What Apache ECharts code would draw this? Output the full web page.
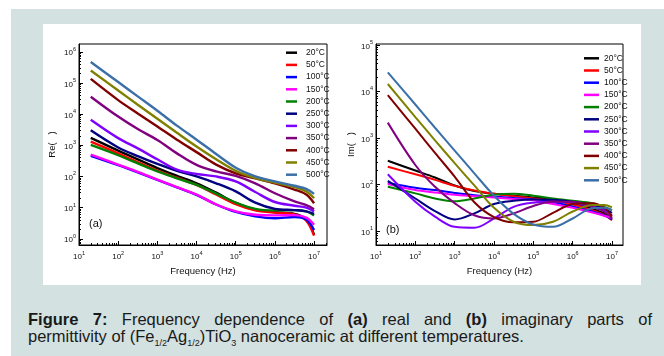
<!DOCTYPE html>
<html><head><meta charset="utf-8">
<script src="https://cdn.jsdelivr.net/npm/echarts@6/dist/echarts.min.js"></script>
<style>
html,body{margin:0;padding:0;background:#fff;width:664px;height:356px;overflow:hidden;font-family:'Liberation Sans',Arial,sans-serif;}
#bg{position:absolute;left:11px;top:9px;width:653px;height:347px;background:#d3e1e1;}
#panel{position:absolute;left:43px;top:24px;width:598px;height:261px;background:#fff;}
#chart{position:absolute;left:0;top:0;width:664px;height:356px;}
.cap{position:absolute;left:28px;width:624px;font-size:16.5px;color:#1a1a1a;line-height:16.6px;white-space:nowrap;}
#l1{top:311px;text-align:justify;text-align-last:justify;}
#l2{top:327.6px;}
.cap b{font-weight:bold;}
sub{font-size:9px;vertical-align:-4px;line-height:0;}
</style></head>
<body>
<div id="bg"></div>
<div id="panel"></div>
<div class="cap" id="l1"><b>Figure 7:</b> Frequency dependence of <b>(a)</b> real and <b>(b)</b> imaginary parts of</div>
<div class="cap" id="l2">permittivity of (Fe<sub>1/2</sub>Ag<sub>1/2</sub>)TiO<sub>3</sub> nanoceramic at different temperatures.</div>
<div id="chart"></div>
<script>
// frequency sample points, as log10(Hz)
const logFreq = [1.3, 2, 2.5, 3, 3.5, 4, 4.5, 5, 5.5, 6, 6.5, 6.8, 7];
const temps = ['20°C','50°C','100°C','150°C','200°C','250°C','300°C','350°C','400°C','450°C','500°C'];
const colors = ['#000000','#ff0000','#0000ff','#ff00ff','#008000','#000080','#8000ff','#800080','#800000','#808000','#3b6fa8'];
// (a) real part, log10 values
const re20  = [3.24, 2.83, 2.55, 2.27, 2.02, 1.78, 1.48, 1.15, 0.93, 0.85, 0.80, 0.62, 0.13];
const re50  = [3.12, 2.74, 2.46, 2.19, 1.96, 1.73, 1.42, 1.11, 0.91, 0.84, 0.78, 0.58, 0.10];
const re100 = [2.66, 2.36, 2.13, 1.89, 1.65, 1.41, 1.10, 0.86, 0.72, 0.66, 0.70, 0.62, 0.28];
const re150 = [2.70, 2.38, 2.15, 1.90, 1.66, 1.42, 1.10, 0.88, 0.77, 0.75, 0.76, 0.68, 0.45];
const re200 = [3.01, 2.68, 2.42, 2.16, 1.94, 1.73, 1.45, 1.16, 0.96, 0.91, 0.92, 0.88, 0.75];
const re250 = [3.48, 2.93, 2.65, 2.40, 2.18, 2.00, 1.78, 1.52, 1.16, 0.96, 0.92, 0.88, 0.80];
const re300 = [3.82, 3.23, 2.90, 2.55, 2.22, 2.08, 2.00, 1.84, 1.50, 1.18, 1.06, 1.00, 0.88];
const re350 = [4.56, 3.92, 3.52, 3.17, 2.74, 2.37, 2.16, 2.02, 1.78, 1.46, 1.20, 1.08, 0.95];
const re400 = [5.13, 4.45, 4.02, 3.60, 3.18, 2.78, 2.38, 2.10, 1.94, 1.78, 1.58, 1.42, 1.14];
const re450 = [5.40, 4.76, 4.30, 3.85, 3.40, 2.96, 2.55, 2.18, 1.95, 1.80, 1.66, 1.52, 1.30];
const re500 = [5.67, 5.03, 4.57, 4.11, 3.63, 3.18, 2.72, 2.28, 2.00, 1.84, 1.70, 1.60, 1.44];
// (b) imaginary part, log10 values
const im20  = [2.51, 2.30, 2.15, 1.98, 1.86, 1.80, 1.76, 1.72, 1.68, 1.60, 1.48, 1.38, 1.25];
const im50  = [2.38, 2.22, 2.10, 1.97, 1.87, 1.80, 1.75, 1.70, 1.65, 1.57, 1.45, 1.35, 1.23];
const im100 = [2.04, 1.93, 1.88, 1.82, 1.77, 1.74, 1.71, 1.68, 1.62, 1.53, 1.42, 1.34, 1.25];
const im150 = [2.01, 1.88, 1.83, 1.78, 1.75, 1.72, 1.69, 1.66, 1.58, 1.50, 1.40, 1.33, 1.28];
const im200 = [1.95, 1.81, 1.70, 1.64, 1.70, 1.78, 1.80, 1.76, 1.70, 1.65, 1.60, 1.52, 1.45];
const im250 = [2.08, 1.70, 1.43, 1.25, 1.38, 1.58, 1.65, 1.68, 1.67, 1.63, 1.56, 1.48, 1.39];
const im300 = [2.22, 1.63, 1.31, 1.09, 1.07, 1.27, 1.52, 1.61, 1.63, 1.61, 1.52, 1.45, 1.34];
const im350 = [3.33, 2.42, 1.95, 1.60, 1.34, 1.27, 1.38, 1.54, 1.63, 1.63, 1.52, 1.42, 1.27];
const im400 = [3.92, 3.20, 2.68, 2.17, 1.62, 1.30, 1.19, 1.20, 1.39, 1.58, 1.60, 1.50, 1.31];
const im450 = [4.16, 3.45, 2.95, 2.46, 1.98, 1.50, 1.20, 1.13, 1.20, 1.42, 1.56, 1.56, 1.51];
const im500 = [4.41, 3.72, 3.22, 2.73, 2.24, 1.76, 1.37, 1.14, 1.09, 1.27, 1.49, 1.50, 1.45];
const reData = [re20, re50, re100, re150, re200, re250, re300, re350, re400, re450, re500];
const imData = [im20, im50, im100, im150, im200, im250, im300, im350, im400, im450, im500];
// axis tick labels (decade exponents)
const xDecades = [1, 2, 3, 4, 5, 6, 7];
const reDecades = [0, 1, 2, 3, 4, 5, 6];
const imDecades = [1, 2, 3, 4, 5];

function minorOf(decs, lo, hi) {
  const out = [];
  for (let d = decs[0] - 1; d <= decs[decs.length - 1]; d++) {
    for (let k = 2; k <= 9; k++) { const v = d + Math.log10(k); if (v > lo && v < hi) out.push(v); }
  }
  return out;
}
const FONT = "'Liberation Sans Narrow','Liberation Sans',Arial,sans-serif";
const rich = {
  b: {fontSize: 8, fontFamily: FONT, color: '#111', lineHeight: 11, verticalAlign: 'bottom'},
  s: {fontSize: 5.5, fontFamily: FONT, color: '#111', lineHeight: 11, verticalAlign: 'top'}
};
const fmt = v => '{b|10}{s|' + v + '}';

function majorAxis(grid, min, max, decs, pos, name, gap) {
  return {
    type: 'value', gridIndex: grid, min: min, max: max, position: pos,
    axisLine: {show: true, onZero: false, lineStyle: {color: '#000', width: 1}},
    axisTick: {show: true, inside: true, length: 4, customValues: decs, lineStyle: {color: '#000', width: 1}},
    axisLabel: {show: true, customValues: decs, formatter: fmt, rich: rich, margin: pos === 'bottom' ? 5 : 3},
    splitLine: {show: false},
    name: name, nameLocation: 'middle', nameGap: gap,
    nameTextStyle: {fontSize: 9.5, color: '#111', fontFamily: "'Liberation Sans',Arial,sans-serif"}
  };
}
function minorAxis(grid, min, max, decs, pos) {
  return {
    type: 'value', gridIndex: grid, min: min, max: max, position: pos,
    axisLine: {show: false, onZero: false},
    axisTick: {show: true, inside: true, length: 2, customValues: minorOf(decs, min, max), lineStyle: {color: '#000', width: 1}},
    axisLabel: {show: false},
    splitLine: {show: false}
  };
}

const series = [];
temps.forEach((t, i) => {
  series.push({
    name: t, type: 'line', xAxisIndex: 0, yAxisIndex: 0, smooth: 0.35, symbol: 'none',
    lineStyle: {color: colors[i], width: 2.4}, itemStyle: {color: colors[i]},
    data: logFreq.map((x, j) => [x, reData[i][j]])
  });
});
temps.forEach((t, i) => {
  series.push({
    name: t, type: 'line', xAxisIndex: 2, yAxisIndex: 2, smooth: 0.35, symbol: 'none',
    lineStyle: {color: colors[i], width: 2}, itemStyle: {color: colors[i]},
    data: logFreq.map((x, j) => [x, imData[i][j]])
  });
});

const legendText = {fontSize: 8.5, color: '#111', fontFamily: FONT, lineHeight: 12.2};
const chart = echarts.init(document.getElementById('chart'), null, {renderer: 'canvas'});
chart.setOption({
  animation: false,
  backgroundColor: 'transparent',
  grid: [
    {left: 79, top: 44, width: 248, height: 201, show: true, borderColor: '#000', borderWidth: 1, containLabel: false},
    {left: 376, top: 44, width: 247, height: 201, show: true, borderColor: '#000', borderWidth: 1, containLabel: false}
  ],
  xAxis: [
    majorAxis(0, 1, 7.33, xDecades, 'bottom', 'Frequency (Hz)', 20),
    minorAxis(0, 1, 7.33, xDecades, 'bottom'),
    majorAxis(1, 1, 7.28, xDecades, 'bottom', 'Frequency (Hz)', 20),
    minorAxis(1, 1, 7.28, xDecades, 'bottom')
  ],
  yAxis: [
    majorAxis(0, -0.2, 6.25, reDecades, 'left', 'Re(   )', 22),
    minorAxis(0, -0.2, 6.25, reDecades, 'left'),
    majorAxis(1, 0.7, 5.02, imDecades, 'left', 'Im(   )', 20),
    minorAxis(1, 0.7, 5.02, imDecades, 'left')
  ],
  legend: [
    {data: temps, orient: 'vertical', left: 281, top: 41.6, itemWidth: 11, itemHeight: 2.5, itemGap: 0, icon: 'rect',
     selectedMode: false, textStyle: Object.assign({padding: [0, 0, 0, 4]}, legendText)},
    {data: temps, orient: 'vertical', left: 579, top: 47.2, itemWidth: 15, itemHeight: 2.5, itemGap: 0, icon: 'rect',
     selectedMode: false, textStyle: Object.assign({padding: [0, 0, 0, 0]}, legendText)}
  ],
  graphic: [
    {type: 'text', left: 89, top: 218, style: {text: '(a)', fontSize: 11, fill: '#111', fontFamily: "'Liberation Sans',Arial,sans-serif"}},
    {type: 'text', left: 386, top: 224, style: {text: '(b)', fontSize: 11, fill: '#111', fontFamily: "'Liberation Sans',Arial,sans-serif"}}
  ],
  series: series
});
</script>
</body></html>
